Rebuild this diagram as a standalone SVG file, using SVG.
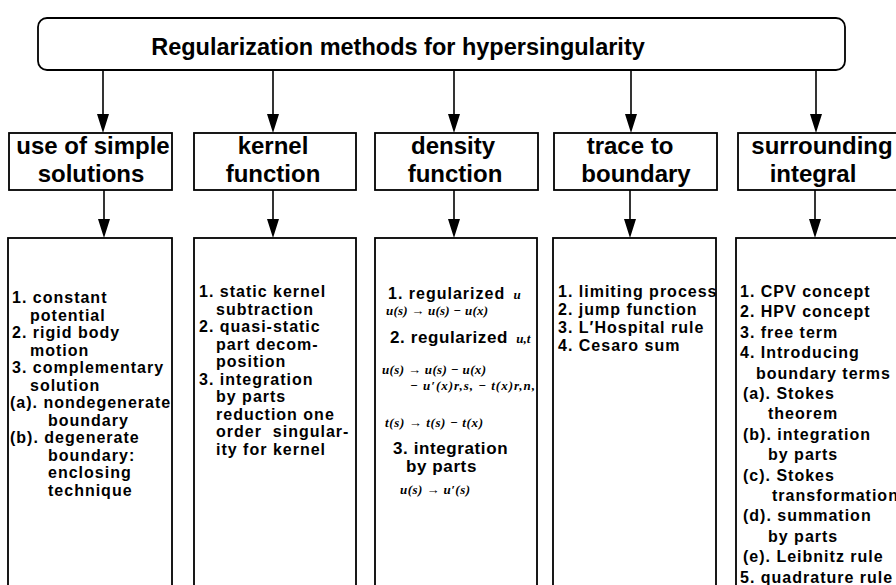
<svg xmlns="http://www.w3.org/2000/svg" width="896" height="585" viewBox="0 0 896 585">
<style>
.box{fill:#fff;stroke:#000;stroke-width:1.8}
.title{font-family:"Liberation Sans",Arial,sans-serif;font-weight:bold;font-size:23.5px;fill:#000}
.head{font-family:"Liberation Sans",Arial,sans-serif;font-weight:bold;font-size:24px;fill:#000;text-anchor:middle}
.item{font-family:"Liberation Sans",Arial,sans-serif;font-weight:bold;font-size:16px;letter-spacing:1px;fill:#000}
.big{font-family:"Liberation Sans",Arial,sans-serif;font-weight:bold;font-size:17px;letter-spacing:0.6px;fill:#000}
.math{font-family:"Liberation Serif","Times New Roman",serif;font-style:italic;font-weight:bold;font-size:13px;fill:#000;letter-spacing:0}
.conn{stroke:#000;stroke-width:1.6;fill:none}
.head-ar{fill:#000}
</style>
<rect width="896" height="585" fill="#fff"/>

<g id="connectors">
<line class="conn" x1="103" y1="70" x2="103" y2="130"/>
<line class="conn" x1="273" y1="70" x2="273" y2="130"/>
<line class="conn" x1="454" y1="70" x2="454" y2="130"/>
<line class="conn" x1="631" y1="70" x2="631" y2="130"/>
<line class="conn" x1="816" y1="70" x2="816" y2="130"/>
<line class="conn" x1="104" y1="190" x2="104" y2="235"/>
<line class="conn" x1="273" y1="190" x2="273" y2="235"/>
<line class="conn" x1="454" y1="190" x2="454" y2="235"/>
<line class="conn" x1="630" y1="190" x2="630" y2="235"/>
<line class="conn" x1="815" y1="190" x2="815" y2="235"/>
<path class="head-ar" d="M97,114 L103,133 L109,114 Z M267,114 L273,133 L279,114 Z M448,114 L454,133 L460,114 Z M625,114 L631,133 L637,114 Z M810,114 L816,133 L822,114 Z M98,219 L104,238 L110,219 Z M267,219 L273,238 L279,219 Z M448,219 L454,238 L460,219 Z M624,219 L630,238 L636,219 Z M809,219 L815,238 L821,219 Z"/>
</g>

<g id="root">
<rect class="box" x="38" y="18" width="807" height="52" rx="9"/>
<text class="title" x="398" y="55" text-anchor="middle">Regularization methods for hypersingularity</text>
</g>

<g id="simple">
<rect class="box" x="9" y="133" width="163" height="57"/>
<text class="head" x="93" y="154">use of simple</text>
<text class="head" x="91" y="182">solutions</text>
</g>
<g id="kernel">
<rect class="box" x="194" y="133" width="162" height="57"/>
<text class="head" x="273" y="154">kernel</text>
<text class="head" x="273" y="182">function</text>
</g>
<g id="density">
<rect class="box" x="375" y="133" width="163" height="57"/>
<text class="head" x="453" y="154">density</text>
<text class="head" x="455" y="182">function</text>
</g>
<g id="trace">
<rect class="box" x="554" y="133" width="163" height="57"/>
<text class="head" x="630" y="154">trace to</text>
<text class="head" x="636" y="182">boundary</text>
</g>
<g id="surround">
<rect class="box" x="738" y="133" width="170" height="57"/>
<text class="head" x="822" y="154">surrounding</text>
<text class="head" x="813" y="182">integral</text>
</g>

<g id="simple-list">
<rect class="box" x="8" y="238" width="164" height="360"/>
<text class="item" x="12" y="303">1. constant</text>
<text class="item" x="30" y="320.5">potential</text>
<text class="item" x="12" y="338">2. rigid body</text>
<text class="item" x="30" y="355.5">motion</text>
<text class="item" x="12" y="373">3. complementary</text>
<text class="item" x="30" y="390.5">solution</text>
<text class="item" x="10" y="408">(a). nondegenerate</text>
<text class="item" x="48" y="425.5">boundary</text>
<text class="item" x="10" y="443">(b). degenerate</text>
<text class="item" x="48" y="460.5">boundary:</text>
<text class="item" x="48" y="478">enclosing</text>
<text class="item" x="48" y="495.5">technique</text>
</g>

<g id="kernel-list">
<rect class="box" x="194" y="238" width="162" height="360"/>
<text class="item" x="199" y="297">1. static kernel</text>
<text class="item" x="216" y="314.5">subtraction</text>
<text class="item" x="199" y="332">2. quasi-static</text>
<text class="item" x="216" y="349.5">part decom-</text>
<text class="item" x="216" y="367">position</text>
<text class="item" x="199" y="384.5">3. integration</text>
<text class="item" x="216" y="402">by parts</text>
<text class="item" x="216" y="419.5">reduction one</text>
<text class="item" x="216" y="437" xml:space="preserve">order  singular-</text>
<text class="item" x="216" y="454.5">ity for kernel</text>
</g>

<g id="density-list">
<rect class="box" x="375" y="238" width="162" height="360"/>
<text class="item" x="388" y="299">1. regularized <tspan class="math" dx="3" font-size="11">u</tspan></text>
<text class="math" x="386" y="315" textLength="102" lengthAdjust="spacing">u(s) → u(s) − u(x)</text>
<text class="big" x="390" y="343">2. regularized <tspan class="math" dx="3" font-size="11">u,t</tspan></text>
<text class="math" x="382" y="374" textLength="104" lengthAdjust="spacing">u(s) → u(s) − u(x)</text>
<text class="math" x="410" y="390" textLength="125" lengthAdjust="spacing">− u′(x)r,s, − t(x)r,n,</text>
<text class="math" x="385" y="427" textLength="98" lengthAdjust="spacing">t(s) → t(s) − t(x)</text>
<text class="big" x="393" y="454">3. integration</text>
<text class="big" x="406" y="472">by parts</text>
<text class="math" x="400" y="494" textLength="70" lengthAdjust="spacing">u(s) → u′(s)</text>
</g>

<g id="trace-list">
<rect class="box" x="553" y="238" width="163" height="360"/>
<text class="item" x="558" y="297">1. limiting process</text>
<text class="item" x="558" y="315">2. jump function</text>
<text class="item" x="558" y="333">3. L′Hospital rule</text>
<text class="item" x="558" y="351">4. Cesaro sum</text>
</g>

<g id="surround-list">
<rect class="box" x="736" y="238" width="172" height="360"/>
<text class="item" x="740" y="297">1. CPV concept</text>
<text class="item" x="740" y="317.4">2. HPV concept</text>
<text class="item" x="740" y="337.8">3. free term</text>
<text class="item" x="740" y="358.2">4. Introducing</text>
<text class="item" x="756" y="378.6">boundary terms</text>
<text class="item" x="743" y="399">(a). Stokes</text>
<text class="item" x="768" y="419.4">theorem</text>
<text class="item" x="743" y="439.8">(b). integration</text>
<text class="item" x="768" y="460.2">by parts</text>
<text class="item" x="743" y="480.6">(c). Stokes</text>
<text class="item" x="772" y="501">transformation</text>
<text class="item" x="743" y="521.4">(d). summation</text>
<text class="item" x="768" y="541.8">by parts</text>
<text class="item" x="743" y="562.2">(e). Leibnitz rule</text>
<text class="item" x="740" y="582.6">5. quadrature rule</text>
</g>
</svg>
